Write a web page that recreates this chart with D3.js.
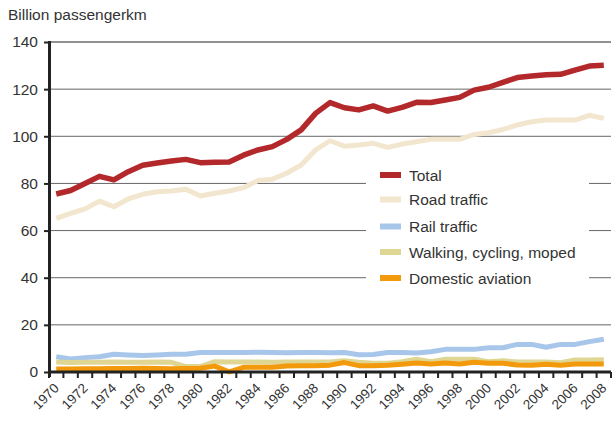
<!DOCTYPE html>
<html><head><meta charset="utf-8">
<script src="https://cdn.jsdelivr.net/npm/d3@7"></script>
<style>body{margin:0;background:#fff}svg{display:block}text{font-family:"Liberation Sans",Arial,sans-serif;fill:#333}</style>
</head><body><div id="chart"></div>
<script>
const years = d3.range(1970, 2009);
const total = [75.5,77,80,83,81.5,85,87.7,88.7,89.5,90.2,88.8,89,89.1,92,94.2,95.6,98.7,102.7,109.7,114.3,112.1,111.2,112.9,110.7,112.3,114.4,114.3,115.4,116.5,119.6,120.8,122.9,124.9,125.6,126.1,126.3,128.1,129.8,130.1];
const road = [65.2,67.3,69.2,72.5,70.1,73.4,75.4,76.5,76.8,77.5,74.7,75.8,76.8,78.2,81.2,81.8,84.3,87.8,94.2,98.1,95.8,96.3,97,95.3,96.7,97.7,98.7,98.7,98.7,100.8,101.5,102.9,104.8,106.2,106.9,106.9,106.9,108.9,107.6];
const rail = [6.5,5.5,6.1,6.5,7.5,7.2,7,7.2,7.5,7.5,8.3,8.3,8.3,8.3,8.4,8.3,8.2,8.3,8.3,8.2,8.3,7.3,7.4,8.3,8.3,8.1,8.6,9.6,9.6,9.6,10.3,10.3,11.7,11.7,10.5,11.7,11.7,12.9,13.9];
const walking = [4.2,4,4.1,4.1,4.2,4.1,4.1,4.2,4.1,2.3,2.3,4.4,4.2,4.2,4.2,4.1,4.2,4.2,4.2,4.2,4.8,4.1,3.7,3.7,4.4,5.4,4.4,5.4,5.4,5.4,4.4,4.8,4.2,4.2,4.2,3.9,5.1,5.1,5.2];
const aviation = [1.3,1.3,1.4,1.4,1.5,1.5,1.6,1.5,1.4,1.5,1.6,2.5,0.1,2,2,2,2.5,2.7,2.7,2.9,4,2.7,2.7,2.9,3.3,3.8,3.4,3.8,3.4,4.1,3.7,3.7,3,2.9,3.3,2.9,3.4,3.4,3.4];
const seriesNames = ["Total","Road traffic","Rail traffic","Walking, cycling, moped","Domestic aviation"];
const seriesColors = ["#b3282b","#f3e6cf","#a8c6ea","#e0d693","#f39a0c"];
const yTicks = [0,20,40,60,80,100,120,140];
const yTitle = "Billion passengerkm";

const W = 614, H = 421;
const svg = d3.select("#chart").append("svg").attr("width", W).attr("height", H);
const xEdge = d3.scaleLinear().domain([1970, 2009]).range([49, 611]);
const xPt = yr => xEdge(yr + 0.5);
const y = d3.scaleLinear().domain([0, 140]).range([372, 42]);

svg.append("text").attr("x", 8).attr("y", 20).style("font-size", "15.5px").text(yTitle);

// gridlines
svg.append("g").selectAll("line").data(yTicks.filter(d => d > 0)).join("line")
  .attr("x1", 50).attr("x2", 611).attr("y1", d => y(d)).attr("y2", d => y(d))
  .attr("stroke", d => d === 140 ? "#222" : "#666").attr("stroke-width", 1);

// y axis
const yAxis = d3.axisLeft(y).tickValues(yTicks).tickSize(6).tickPadding(6);
const gy = svg.append("g").attr("transform", "translate(50,0)").call(yAxis);
gy.select(".domain").remove();
gy.selectAll(".tick line").attr("stroke", "#222").attr("stroke-width", 2);
gy.selectAll(".tick text").style("font-size", "15.5px").style("font-family", "Liberation Sans, Arial, sans-serif").attr("fill", "#333");
svg.append("line").attr("x1", 49.5).attr("x2", 49.5).attr("y1", 41).attr("y2", 377).attr("stroke", "#222").attr("stroke-width", 3);

// legend background
svg.append("rect").attr("x", 366).attr("y", 160).attr("width", 223).attr("height", 130).attr("fill", "#fff");

// lines
const line = d3.line().x((d, i) => xPt(years[i])).y(d => y(d));
const data = [road, rail, walking, aviation, total];
const cols = [seriesColors[1], seriesColors[2], seriesColors[3], seriesColors[4], seriesColors[0]];
svg.append("g").selectAll("path").data(data).join("path")
  .attr("d", line).attr("fill", "none").attr("stroke", (d, i) => cols[i])
  .attr("stroke-width", (d, i) => i === 4 ? 5.5 : 5).attr("stroke-linejoin", "round");

// x axis
const gx = svg.append("g");
gx.append("line").attr("x1", 49).attr("x2", 611).attr("y1", 372).attr("y2", 372).attr("stroke", "#222").attr("stroke-width", 3);
gx.selectAll("line.t").data(d3.range(1970, 2010)).join("line").attr("class", "t")
  .attr("x1", d => xEdge(d)).attr("x2", d => xEdge(d)).attr("y1", 372).attr("y2", 378)
  .attr("stroke", "#222").attr("stroke-width", 2);
gx.selectAll("text").data(years.filter(d => d % 2 === 0)).join("text")
  .attr("transform", d => `translate(${xPt(d) + 3.5},${389}) rotate(-45)`)
  .attr("text-anchor", "end").style("font-size", "13.5px").text(d => d);

// legend
const lg = svg.append("g");
const rows = [175, 199.5, 226.5, 252, 278];
seriesNames.forEach((n, i) => {
  lg.append("rect").attr("x", 380).attr("y", rows[i] - 3).attr("width", 21).attr("height", 6).attr("fill", seriesColors[i]);
  lg.append("text").attr("x", 409).attr("y", rows[i] + 5.5).style("font-size", "15.5px").text(n);
});
</script></body></html>
